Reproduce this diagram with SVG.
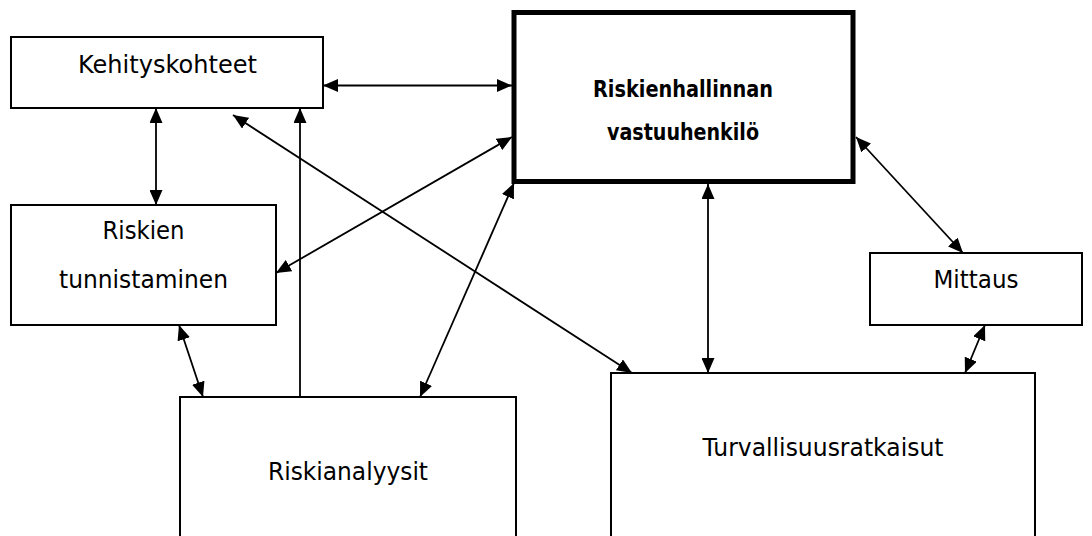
<svg xmlns="http://www.w3.org/2000/svg" width="1092" height="536" viewBox="0 0 1092 536">
<style>
  .box { fill: #fff; stroke: #000; stroke-width: 2; }
  .thick { fill: #fff; stroke: #000; stroke-width: 5; }
  .lbl { font-family: "DejaVu Sans", Verdana, sans-serif; font-size: 25px; fill: #000; text-anchor: middle; }
  .bold { font-family: "DejaVu Sans", Verdana, sans-serif; font-size: 23px; font-weight: bold; fill: #000; text-anchor: middle; }
  .conn line { stroke: #000; stroke-width: 1.8; fill: none; }
  .both { marker-start: url(#ah); marker-end: url(#ah); }
  .one { marker-end: url(#ah); }
</style>
<defs>
  <marker id="ah" viewBox="0 0 15 13" refX="15" refY="6.5" markerWidth="15" markerHeight="13" markerUnits="userSpaceOnUse" orient="auto-start-reverse">
    <path d="M0,0 L15,6.5 L0,13 z" fill="#000"/>
  </marker>
</defs>
<rect width="1092" height="536" fill="#fff"/>
<g id="kehityskohteet">
  <rect class="box" x="11" y="37" width="312" height="71"/>
  <text class="lbl" x="167.5" y="73" textLength="179" lengthAdjust="spacingAndGlyphs">Kehityskohteet</text>
</g>
<g id="riskienhallinnan-vastuuhenkilo">
  <rect class="thick" x="514" y="12.5" width="339" height="169"/>
  <text class="bold" x="683" y="97" textLength="180" lengthAdjust="spacingAndGlyphs">Riskienhallinnan</text>
  <text class="bold" x="683" y="140" textLength="152" lengthAdjust="spacingAndGlyphs">vastuuhenkilö</text>
</g>
<g id="riskien-tunnistaminen">
  <rect class="box" x="11" y="205" width="265" height="120"/>
  <text class="lbl" x="143.5" y="239" textLength="82" lengthAdjust="spacingAndGlyphs">Riskien</text>
  <text class="lbl" x="143.5" y="288" textLength="169" lengthAdjust="spacingAndGlyphs">tunnistaminen</text>
</g>
<g id="mittaus">
  <rect class="box" x="870" y="253" width="212" height="72"/>
  <text class="lbl" x="976" y="288" textLength="85" lengthAdjust="spacingAndGlyphs">Mittaus</text>
</g>
<g id="riskianalyysit">
  <rect class="box" x="180" y="397" width="336" height="160"/>
  <text class="lbl" x="348" y="480" textLength="160" lengthAdjust="spacingAndGlyphs">Riskianalyysit</text>
</g>
<g id="turvallisuusratkaisut">
  <rect class="box" x="611" y="373" width="424" height="180"/>
  <text class="lbl" x="823" y="456" textLength="241" lengthAdjust="spacingAndGlyphs">Turvallisuusratkaisut</text>
</g>
<g id="connectors" class="conn">
  <line class="both" x1="323" y1="85.5" x2="512" y2="85.5"/>
  <line class="both" x1="156" y1="108" x2="156" y2="205"/>
  <line class="one" x1="300" y1="397" x2="300" y2="108"/>
  <line class="both" x1="512" y1="137" x2="276" y2="273"/>
  <line class="both" x1="233" y1="115" x2="632" y2="373"/>
  <line class="both" x1="179" y1="325" x2="203" y2="397"/>
  <line class="both" x1="420" y1="397" x2="514" y2="183"/>
  <line class="both" x1="708" y1="184" x2="708" y2="373"/>
  <line class="both" x1="856" y1="137" x2="963" y2="253"/>
  <line class="both" x1="985" y1="325" x2="965" y2="373"/>
</g>
</svg>
